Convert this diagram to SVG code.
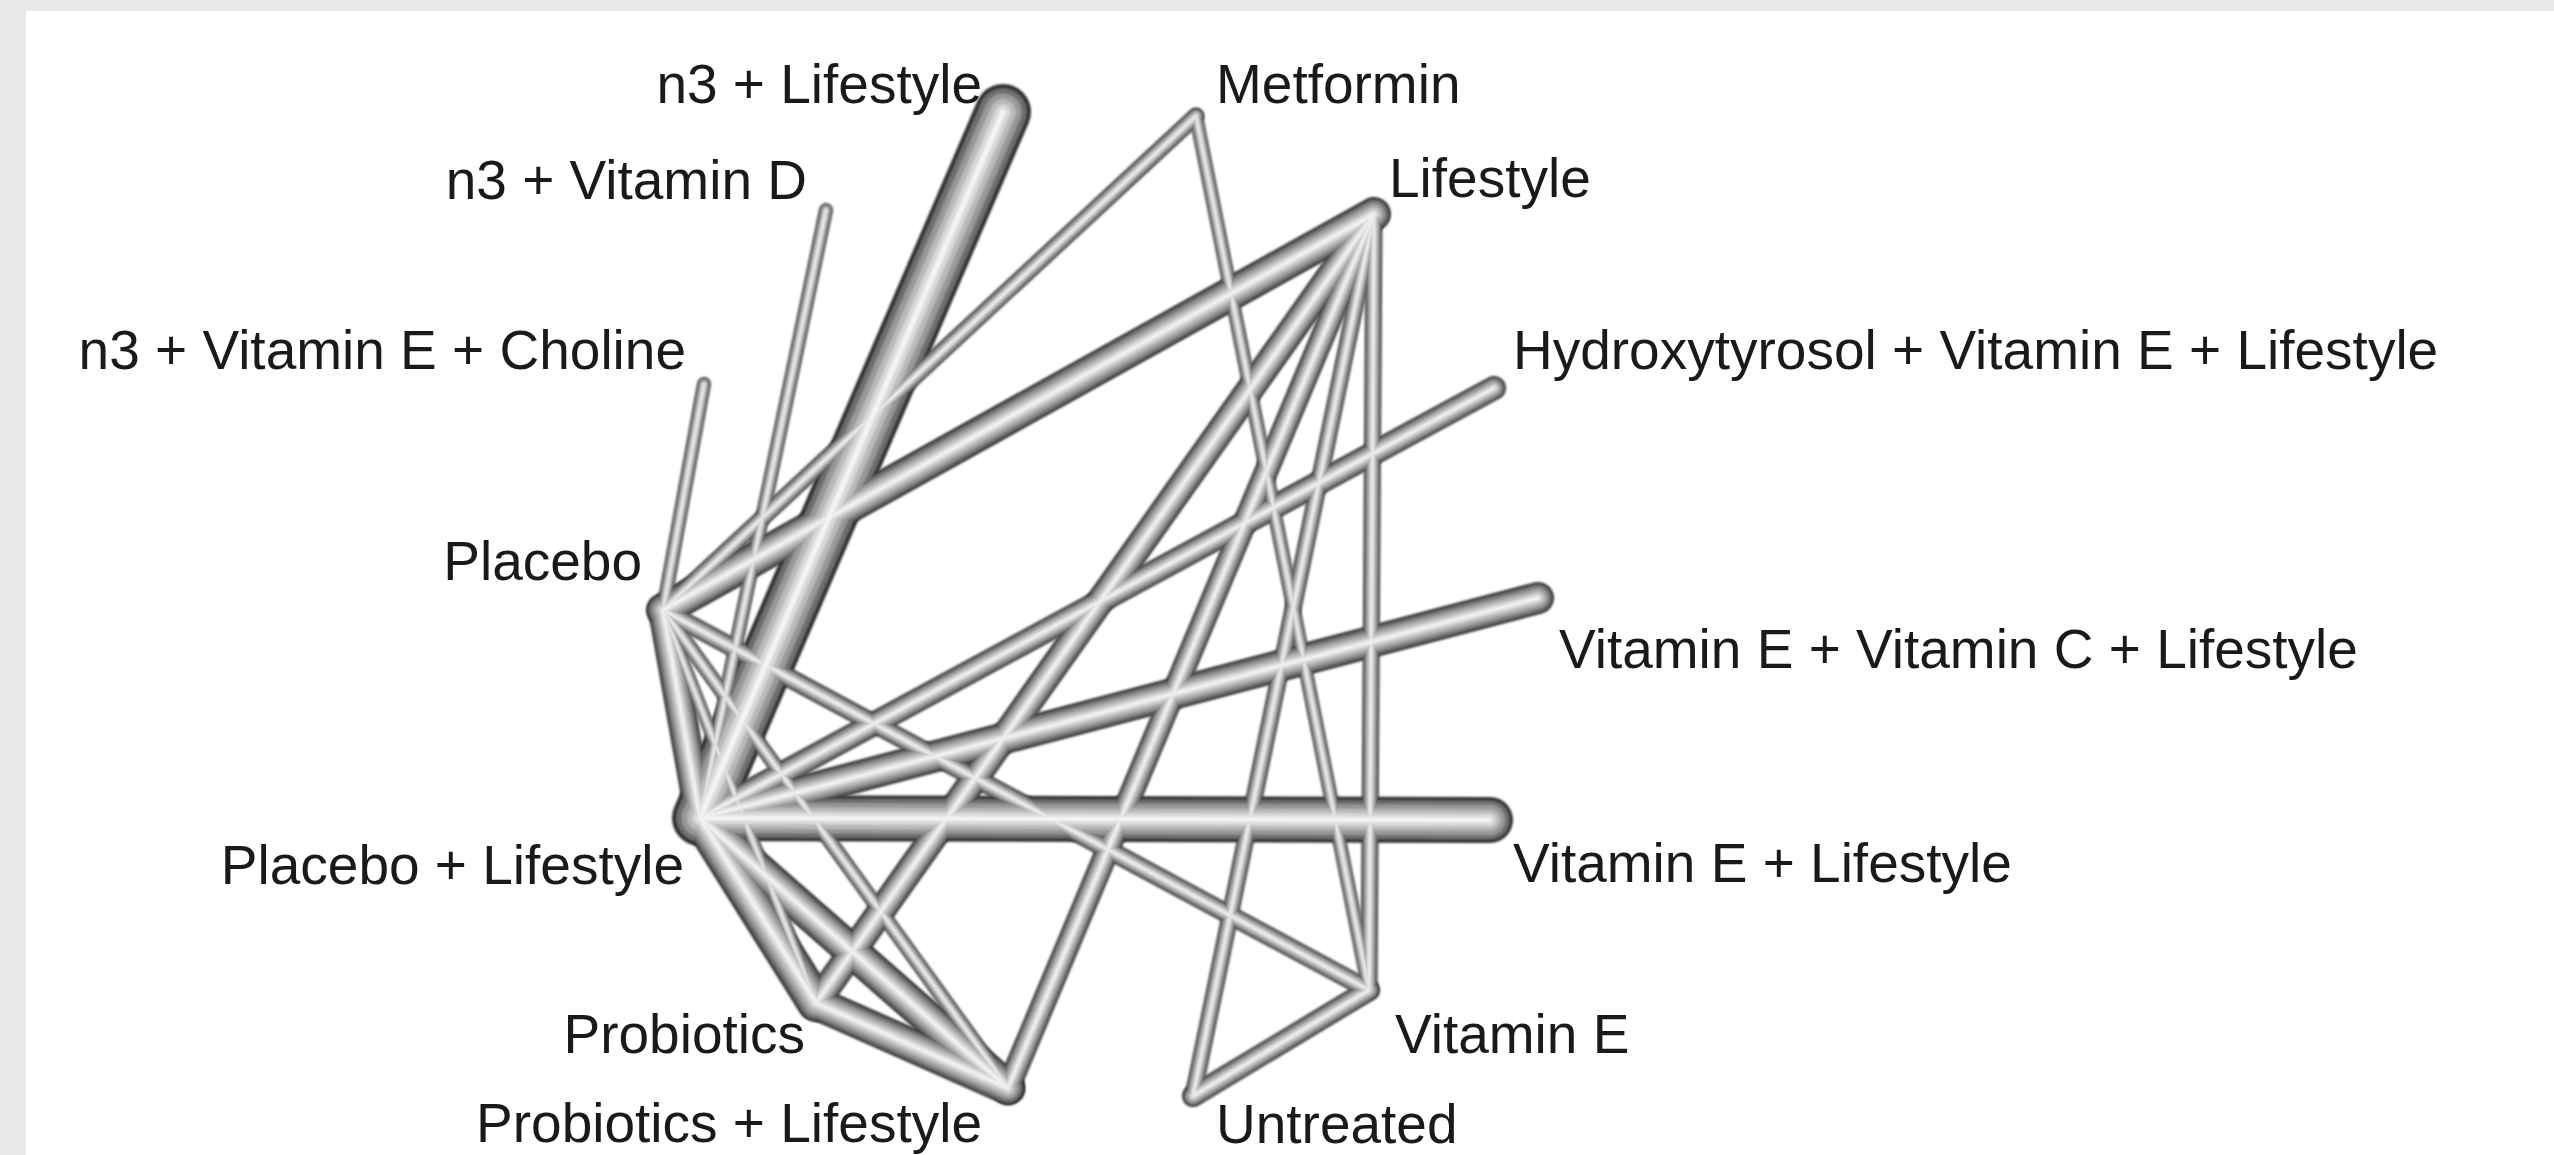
<svg xmlns="http://www.w3.org/2000/svg" xmlns:xlink="http://www.w3.org/1999/xlink" width="2554" height="1155" viewBox="0 0 2554 1155">
<style>
text{font-family:"Liberation Sans",Arial,sans-serif;font-size:55px;fill:#1a1a1a}
.edge{mix-blend-mode:lighten;filter:url(#soft)}
use{stroke-linecap:round;fill:none}
.k0{stroke:#333333}.k1{stroke:#6e6e6e}.k2{stroke:#989898}.k3{stroke:#bababa}.k4{stroke:#d9d9d9}.k5{stroke:#f4f4f4}
</style>
<defs>
<filter id="soft" filterUnits="userSpaceOnUse" x="0" y="0" width="2554" height="1155"><feGaussianBlur stdDeviation="1.3"/></filter>
<line id="gA-PL" x1="1003" y1="112" x2="700" y2="818"/>
<line id="gB-PL" x1="826" y1="210" x2="700" y2="818"/>
<line id="gC-P" x1="704" y1="384" x2="663" y2="610"/>
<line id="gM-P" x1="1196" y1="116" x2="663" y2="610"/>
<line id="gL-P" x1="1374" y1="214" x2="663" y2="610"/>
<line id="gP-VE" x1="663" y1="610" x2="1369" y2="990"/>
<line id="gP-PL" x1="663" y1="610" x2="700" y2="818"/>
<line id="gP-Pr" x1="663" y1="610" x2="816" y2="1003"/>
<line id="gP-PrL" x1="663" y1="610" x2="1008" y2="1088"/>
<line id="gPL-Pr" x1="700" y1="818" x2="816" y2="1003"/>
<line id="gPL-PrL" x1="700" y1="818" x2="1008" y2="1088"/>
<line id="gPr-PrL" x1="816" y1="1003" x2="1008" y2="1088"/>
<line id="gL-Pr" x1="1374" y1="214" x2="816" y2="1003"/>
<line id="gL-PrL" x1="1374" y1="214" x2="1008" y2="1088"/>
<line id="gL-U" x1="1374" y1="214" x2="1193" y2="1096"/>
<line id="gL-VE" x1="1374" y1="214" x2="1369" y2="990"/>
<line id="gM-VE" x1="1196" y1="116" x2="1369" y2="990"/>
<line id="gU-VE" x1="1193" y1="1096" x2="1369" y2="990"/>
<line id="gH-PL" x1="1494" y1="388" x2="700" y2="818"/>
<line id="gVEC-PL" x1="1538" y1="598" x2="700" y2="818"/>
<line id="gVEL-PL" x1="1490" y1="820" x2="700" y2="818"/>
</defs>
<rect x="0" y="0" width="2554" height="1155" fill="#e9e9e9"/>
<rect x="26" y="11" width="2528" height="1144" fill="#ffffff"/>
<g id="connectors" style="isolation:isolate">
<g class="edge" id="e-M-VE"><use href="#gM-VE" class="k0" stroke-width="14"/><use href="#gM-VE" class="k1" stroke-width="11.9"/><use href="#gM-VE" class="k2" stroke-width="9.2"/><use href="#gM-VE" class="k3" stroke-width="6.4"/><use href="#gM-VE" class="k4" stroke-width="3.8"/><use href="#gM-VE" class="k5" stroke-width="1.4"/></g>
<g class="edge" id="e-L-VE"><use href="#gL-VE" class="k0" stroke-width="17"/><use href="#gL-VE" class="k1" stroke-width="14.5"/><use href="#gL-VE" class="k2" stroke-width="11.2"/><use href="#gL-VE" class="k3" stroke-width="7.8"/><use href="#gL-VE" class="k4" stroke-width="4.6"/><use href="#gL-VE" class="k5" stroke-width="1.7"/></g>
<g class="edge" id="e-L-U"><use href="#gL-U" class="k0" stroke-width="17"/><use href="#gL-U" class="k1" stroke-width="14.5"/><use href="#gL-U" class="k2" stroke-width="11.2"/><use href="#gL-U" class="k3" stroke-width="7.8"/><use href="#gL-U" class="k4" stroke-width="4.6"/><use href="#gL-U" class="k5" stroke-width="1.7"/></g>
<g class="edge" id="e-U-VE"><use href="#gU-VE" class="k0" stroke-width="22"/><use href="#gU-VE" class="k1" stroke-width="18.7"/><use href="#gU-VE" class="k2" stroke-width="14.5"/><use href="#gU-VE" class="k3" stroke-width="10.1"/><use href="#gU-VE" class="k4" stroke-width="5.9"/><use href="#gU-VE" class="k5" stroke-width="2.2"/></g>
<g class="edge" id="e-M-P"><use href="#gM-P" class="k0" stroke-width="17"/><use href="#gM-P" class="k1" stroke-width="14.5"/><use href="#gM-P" class="k2" stroke-width="11.2"/><use href="#gM-P" class="k3" stroke-width="7.8"/><use href="#gM-P" class="k4" stroke-width="4.6"/><use href="#gM-P" class="k5" stroke-width="1.7"/></g>
<g class="edge" id="e-C-P"><use href="#gC-P" class="k0" stroke-width="14"/><use href="#gC-P" class="k1" stroke-width="11.9"/><use href="#gC-P" class="k2" stroke-width="9.2"/><use href="#gC-P" class="k3" stroke-width="6.4"/><use href="#gC-P" class="k4" stroke-width="3.8"/><use href="#gC-P" class="k5" stroke-width="1.4"/></g>
<g class="edge" id="e-B-PL"><use href="#gB-PL" class="k0" stroke-width="14"/><use href="#gB-PL" class="k1" stroke-width="11.9"/><use href="#gB-PL" class="k2" stroke-width="9.2"/><use href="#gB-PL" class="k3" stroke-width="6.4"/><use href="#gB-PL" class="k4" stroke-width="3.8"/><use href="#gB-PL" class="k5" stroke-width="1.4"/></g>
<g class="edge" id="e-P-Pr"><use href="#gP-Pr" class="k0" stroke-width="13"/><use href="#gP-Pr" class="k1" stroke-width="11.1"/><use href="#gP-Pr" class="k2" stroke-width="8.6"/><use href="#gP-Pr" class="k3" stroke-width="6"/><use href="#gP-Pr" class="k4" stroke-width="3.5"/><use href="#gP-Pr" class="k5" stroke-width="1.3"/></g>
<g class="edge" id="e-P-PrL"><use href="#gP-PrL" class="k0" stroke-width="15"/><use href="#gP-PrL" class="k1" stroke-width="12.8"/><use href="#gP-PrL" class="k2" stroke-width="9.9"/><use href="#gP-PrL" class="k3" stroke-width="6.9"/><use href="#gP-PrL" class="k4" stroke-width="4.1"/><use href="#gP-PrL" class="k5" stroke-width="1.5"/></g>
<g class="edge" id="e-P-VE"><use href="#gP-VE" class="k0" stroke-width="19"/><use href="#gP-VE" class="k1" stroke-width="16.2"/><use href="#gP-VE" class="k2" stroke-width="12.5"/><use href="#gP-VE" class="k3" stroke-width="8.7"/><use href="#gP-VE" class="k4" stroke-width="5.1"/><use href="#gP-VE" class="k5" stroke-width="1.9"/></g>
<g class="edge" id="e-L-PrL"><use href="#gL-PrL" class="k0" stroke-width="24"/><use href="#gL-PrL" class="k1" stroke-width="20.4"/><use href="#gL-PrL" class="k2" stroke-width="15.8"/><use href="#gL-PrL" class="k3" stroke-width="11"/><use href="#gL-PrL" class="k4" stroke-width="6.5"/><use href="#gL-PrL" class="k5" stroke-width="2.4"/></g>
<g class="edge" id="e-H-PL"><use href="#gH-PL" class="k0" stroke-width="24"/><use href="#gH-PL" class="k1" stroke-width="20.4"/><use href="#gH-PL" class="k2" stroke-width="15.8"/><use href="#gH-PL" class="k3" stroke-width="11"/><use href="#gH-PL" class="k4" stroke-width="6.5"/><use href="#gH-PL" class="k5" stroke-width="2.4"/></g>
<g class="edge" id="e-L-Pr"><use href="#gL-Pr" class="k0" stroke-width="28"/><use href="#gL-Pr" class="k1" stroke-width="23.8"/><use href="#gL-Pr" class="k2" stroke-width="18.5"/><use href="#gL-Pr" class="k3" stroke-width="12.9"/><use href="#gL-Pr" class="k4" stroke-width="7.6"/><use href="#gL-Pr" class="k5" stroke-width="2.8"/></g>
<g class="edge" id="e-P-PL"><use href="#gP-PL" class="k0" stroke-width="30"/><use href="#gP-PL" class="k1" stroke-width="25.5"/><use href="#gP-PL" class="k2" stroke-width="19.8"/><use href="#gP-PL" class="k3" stroke-width="13.8"/><use href="#gP-PL" class="k4" stroke-width="8.1"/><use href="#gP-PL" class="k5" stroke-width="3"/></g>
<g class="edge" id="e-L-P"><use href="#gL-P" class="k0" stroke-width="34"/><use href="#gL-P" class="k1" stroke-width="28.9"/><use href="#gL-P" class="k2" stroke-width="22.4"/><use href="#gL-P" class="k3" stroke-width="15.6"/><use href="#gL-P" class="k4" stroke-width="9.2"/><use href="#gL-P" class="k5" stroke-width="3.4"/></g>
<g class="edge" id="e-VEC-PL"><use href="#gVEC-PL" class="k0" stroke-width="32"/><use href="#gVEC-PL" class="k1" stroke-width="27.2"/><use href="#gVEC-PL" class="k2" stroke-width="21.1"/><use href="#gVEC-PL" class="k3" stroke-width="14.7"/><use href="#gVEC-PL" class="k4" stroke-width="8.6"/><use href="#gVEC-PL" class="k5" stroke-width="3.2"/></g>
<g class="edge" id="e-Pr-PrL"><use href="#gPr-PrL" class="k0" stroke-width="34"/><use href="#gPr-PrL" class="k1" stroke-width="28.9"/><use href="#gPr-PrL" class="k2" stroke-width="22.4"/><use href="#gPr-PrL" class="k3" stroke-width="15.6"/><use href="#gPr-PrL" class="k4" stroke-width="9.2"/><use href="#gPr-PrL" class="k5" stroke-width="3.4"/></g>
<g class="edge" id="e-PL-PrL"><use href="#gPL-PrL" class="k0" stroke-width="34"/><use href="#gPL-PrL" class="k1" stroke-width="28.9"/><use href="#gPL-PrL" class="k2" stroke-width="22.4"/><use href="#gPL-PrL" class="k3" stroke-width="15.6"/><use href="#gPL-PrL" class="k4" stroke-width="9.2"/><use href="#gPL-PrL" class="k5" stroke-width="3.4"/></g>
<g class="edge" id="e-PL-Pr"><use href="#gPL-Pr" class="k0" stroke-width="38"/><use href="#gPL-Pr" class="k1" stroke-width="32.3"/><use href="#gPL-Pr" class="k2" stroke-width="25.1"/><use href="#gPL-Pr" class="k3" stroke-width="17.5"/><use href="#gPL-Pr" class="k4" stroke-width="10.3"/><use href="#gPL-Pr" class="k5" stroke-width="3.8"/></g>
<g class="edge" id="e-VEL-PL"><use href="#gVEL-PL" class="k0" stroke-width="46"/><use href="#gVEL-PL" class="k1" stroke-width="39.1"/><use href="#gVEL-PL" class="k2" stroke-width="30.4"/><use href="#gVEL-PL" class="k3" stroke-width="21.2"/><use href="#gVEL-PL" class="k4" stroke-width="12.4"/><use href="#gVEL-PL" class="k5" stroke-width="4.6"/></g>
<g class="edge" id="e-A-PL"><use href="#gA-PL" class="k0" stroke-width="56"/><use href="#gA-PL" class="k1" stroke-width="47.6"/><use href="#gA-PL" class="k2" stroke-width="37"/><use href="#gA-PL" class="k3" stroke-width="25.8"/><use href="#gA-PL" class="k4" stroke-width="15.1"/><use href="#gA-PL" class="k5" stroke-width="5.6"/></g>
</g>
<g id="node-n3-lifestyle"><text x="982" y="103" text-anchor="end">n3 + Lifestyle</text></g>
<g id="node-n3-vitd"><text x="807" y="199" text-anchor="end">n3 + Vitamin D</text></g>
<g id="node-n3-vite-choline"><text x="686" y="369" text-anchor="end">n3 + Vitamin E + Choline</text></g>
<g id="node-placebo"><text x="642" y="580" text-anchor="end">Placebo</text></g>
<g id="node-placebo-lifestyle"><text x="684" y="884" text-anchor="end">Placebo + Lifestyle</text></g>
<g id="node-probiotics"><text x="805" y="1053" text-anchor="end">Probiotics</text></g>
<g id="node-probiotics-lifestyle"><text x="982" y="1142" text-anchor="end">Probiotics + Lifestyle</text></g>
<g id="node-metformin"><text x="1216" y="103">Metformin</text></g>
<g id="node-lifestyle"><text x="1389" y="197">Lifestyle</text></g>
<g id="node-hydroxytyrosol"><text x="1513" y="369">Hydroxytyrosol + Vitamin E + Lifestyle</text></g>
<g id="node-vite-vitc-lifestyle"><text x="1559" y="668">Vitamin E + Vitamin C + Lifestyle</text></g>
<g id="node-vite-lifestyle"><text x="1513" y="882">Vitamin E + Lifestyle</text></g>
<g id="node-vitamin-e"><text x="1395" y="1053">Vitamin E</text></g>
<g id="node-untreated"><text x="1216" y="1143">Untreated</text></g>
</svg>
